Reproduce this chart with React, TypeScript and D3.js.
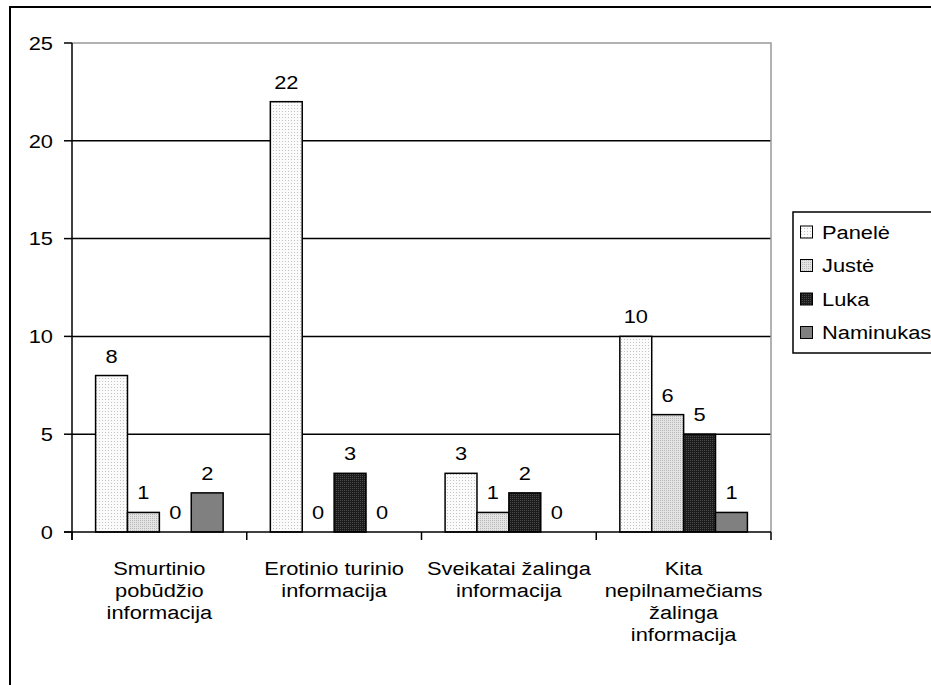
import React from "react";
import * as d3 from "d3";

const categories = [
  ["Smurtinio", "pobūdžio", "informacija"],
  ["Erotinio turinio", "informacija"],
  ["Sveikatai žalinga", "informacija"],
  ["Kita", "nepilnamečiams", "žalinga", "informacija"],
];
const seriesNames = ["Panelė", "Justė", "Luka", "Naminukas"];
const panele = [8, 22, 3, 10];
const juste = [1, 0, 1, 6];
const luka = [0, 3, 2, 5];
const naminukas = [2, 0, 0, 1];
const yTicks = [0, 5, 10, 15, 20, 25];

const seriesValues = [panele, juste, luka, naminukas];
const fills = ["url(#pat0)", "url(#pat1)", "url(#pat2)", "url(#pat3)"];

// text drawn slightly wide, like the original rendering
const FS = 19;
const SX = 1.15;
const T = ({
  x,
  y,
  anchor = "start",
  dy,
  children,
}: {
  x: number;
  y: number;
  anchor?: string;
  dy?: string;
  children: React.ReactNode;
}) => (
  <text
    transform={`translate(${x},${y}) scale(${SX},1)`}
    textAnchor={anchor}
    dy={dy}
    fontSize={FS}
  >
    {children}
  </text>
);

const App = () => {
  const width = 931;
  const height = 685;
  const plot = { left: 72, right: 771, top: 43, bottom: 532 };

  const x0 = d3
    .scaleBand<number>()
    .domain(d3.range(categories.length))
    .range([plot.left, plot.right])
    .paddingInner(0.27)
    .paddingOuter(0.135);
  const x1 = d3
    .scaleBand<number>()
    .domain(d3.range(seriesNames.length))
    .range([0, x0.bandwidth()]);
  const y = d3.scaleLinear().domain([0, 25]).range([plot.bottom, plot.top]);

  const catStep = (plot.right - plot.left) / categories.length;
  const font = "Arial, 'Liberation Sans', sans-serif";

  return (
    <svg
      width={width}
      height={height}
      style={{ position: "absolute", left: 0, top: 0, background: "#fff" }}
      fontFamily={font}
    >
      <defs>
        <pattern id="pat0" width="3" height="3" patternUnits="userSpaceOnUse">
          <rect width="3" height="3" fill="#fbfbfb" />
          <rect width="1" height="1" fill="#c4c4c4" />
        </pattern>
        <pattern id="pat1" width="2" height="2" patternUnits="userSpaceOnUse">
          <rect width="2" height="2" fill="#e4e4e4" />
          <rect width="1" height="1" fill="#b8b8b8" />
        </pattern>
        <pattern id="pat2" width="2" height="2" patternUnits="userSpaceOnUse">
          <rect width="2" height="2" fill="#1c1c1c" />
          <rect width="1" height="1" fill="#4a4a4a" />
        </pattern>
        <pattern id="pat3" width="2" height="2" patternUnits="userSpaceOnUse">
          <rect width="2" height="2" fill="#808080" />
        </pattern>
      </defs>

      {/* outer frame */}
      <rect x={10} y={7} width={940} height={700} fill="none" stroke="#000" strokeWidth={2} />

      {/* gridlines */}
      {yTicks
        .filter((t) => t > 0 && t < 25)
        .map((t) => (
          <line key={t} x1={plot.left} x2={plot.right} y1={y(t)} y2={y(t)} stroke="#000" strokeWidth={1.5} />
        ))}
      {/* plot area border top/right */}
      <path
        d={`M${plot.left},${y(25)}H${plot.right}V${plot.bottom}`}
        fill="none"
        stroke="#999"
        strokeWidth={1.5}
      />

      {/* bars */}
      {categories.map((_, ci) =>
        seriesValues.map((vals, si) => {
          const v = vals[ci];
          const bx = (x0(ci) as number) + (x1(si) as number);
          return (
            <g key={`${ci}-${si}`}>
              {v > 0 && (
                <rect
                  x={bx}
                  y={y(v)}
                  width={x1.bandwidth()}
                  height={y(0) - y(v)}
                  fill={fills[si]}
                  stroke="#000"
                  strokeWidth={1.5}
                />
              )}
              <T x={bx + x1.bandwidth() / 2} y={y(v) - 13} anchor="middle">
                {v}
              </T>
            </g>
          );
        })
      )}

      {/* y axis */}
      <line x1={plot.left} x2={plot.left} y1={y(25)} y2={y(0) + 8} stroke="#000" strokeWidth={1.5} />
      {yTicks.map((t) => (
        <g key={t}>
          <line x1={plot.left - 8} x2={plot.left} y1={y(t)} y2={y(t)} stroke="#000" strokeWidth={1.5} />
          <T x={53} y={y(t)} dy="0.36em" anchor="end">
            {t}
          </T>
        </g>
      ))}

      {/* x axis */}
      <line x1={plot.left - 8} x2={plot.right} y1={y(0)} y2={y(0)} stroke="#000" strokeWidth={1.5} />
      {d3.range(categories.length + 1).map((i) => (
        <line
          key={i}
          x1={plot.left + i * catStep}
          x2={plot.left + i * catStep}
          y1={y(0)}
          y2={y(0) + 8}
          stroke="#000"
          strokeWidth={1.5}
        />
      ))}
      {categories.map((lines, ci) => (
        <T key={ci} x={plot.left + (ci + 0.5) * catStep} y={575} anchor="middle">
          {lines.map((l, li) => (
            <tspan key={li} x={0} dy={li === 0 ? 0 : 21.9}>
              {l}
            </tspan>
          ))}
        </T>
      ))}

      {/* legend */}
      <rect x={793} y={212} width={160} height={141} fill="#fff" stroke="#000" strokeWidth={1.5} />
      {seriesNames.map((name, si) => {
        const cy = 232 + si * 33.5;
        return (
          <g key={name}>
            <rect x={800.5} y={cy - 6} width={12} height={12} fill={fills[si]} stroke="#000" strokeWidth={1} />
            <T x={822} y={cy} dy="0.36em">
              {name}
            </T>
          </g>
        );
      })}
    </svg>
  );
};

export default App;
